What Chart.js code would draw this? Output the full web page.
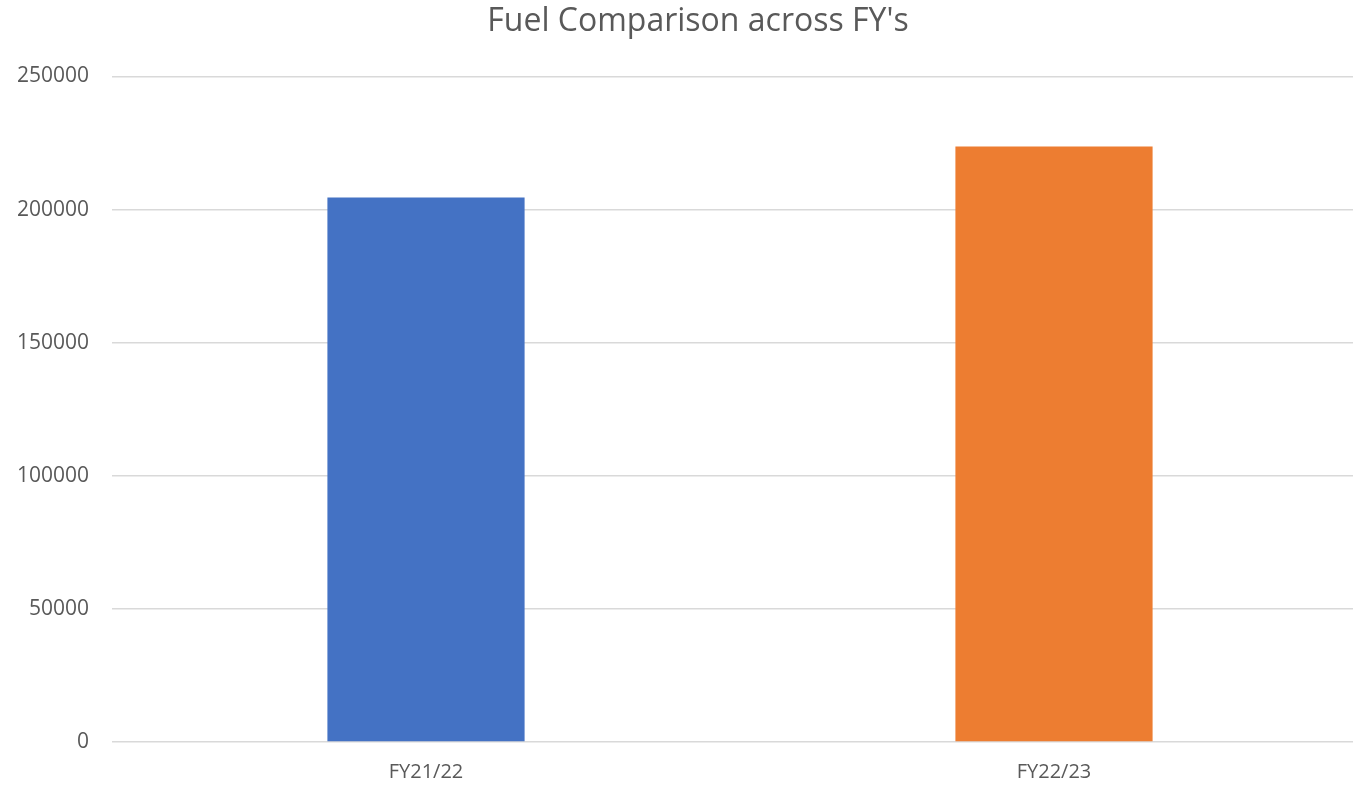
<!DOCTYPE html>
<html>
<head>
<meta charset="utf-8">
<script src="https://cdn.jsdelivr.net/npm/chart.js@4.4.0/dist/chart.umd.min.js"></script>
<style>
    html, body { margin: 0; padding: 0; background: #fff; overflow: hidden; }
    #fuelChart { display: block; }
</style>
</head>
<body>
<canvas id="fuelChart" width="1396" height="787"></canvas>
<script>
// dados do gráfico
const categorias = ['FY21/22', 'FY22/23'];
const consumoCombustivel = [204500, 223700];
const coresBarras = ['#4472C4', '#ED7D31'];
const eixoY = { min: 0, max: 250000, passo: 50000 };

const corTexto = '#595959';
const fonte = '"Open Sans", "Liberation Sans", sans-serif';

const ctx = document.getElementById('fuelChart').getContext('2d');

new Chart(ctx, {
    type: 'bar',
    data: {
        labels: categorias,
        datasets: [{
            label: 'Fuel',
            data: consumoCombustivel,
            backgroundColor: coresBarras,
            borderWidth: 0,
            categoryPercentage: 1,
            barPercentage: 0.314
        }]
    },
    options: {
        responsive: false,
        devicePixelRatio: 1,
        animation: false,
        layout: {
            padding: 0
        },
        plugins: {
            legend: { display: false },
            tooltip: { enabled: false },
            title: {
                display: true,
                text: "Fuel Comparison across FY's",
                color: corTexto,
                font: { family: fonte, size: 32, weight: 'normal' },
                padding: { top: 3, bottom: 35 }
            }
        },
        scales: {
            x: {
                grid: { display: false, drawTicks: false },
                border: { display: false },
                ticks: {
                    color: corTexto,
                    font: { family: fonte, size: 20 },
                    padding: 18
                },
                afterFit: function(scale) { scale.height = 45; }
            },
            y: {
                min: eixoY.min,
                max: eixoY.max,
                grid: { color: '#D9D9D9', lineWidth: 1.5, drawTicks: false },
                border: { display: false },
                ticks: {
                    stepSize: eixoY.passo,
                    color: corTexto,
                    font: { family: fonte, size: 21 },
                    padding: 23,
                    callback: function(value) { return String(value); }
                },
                afterFit: function(scale) { scale.width = 112; }
            },
            // eixo vazio só para reservar a margem da direita
            yDireita: {
                position: 'right',
                grid: { display: false, drawTicks: false },
                border: { display: false },
                ticks: { display: false },
                afterFit: function(scale) { scale.width = 28; }
            }
        }
    }
});
</script>
</body>
</html>
